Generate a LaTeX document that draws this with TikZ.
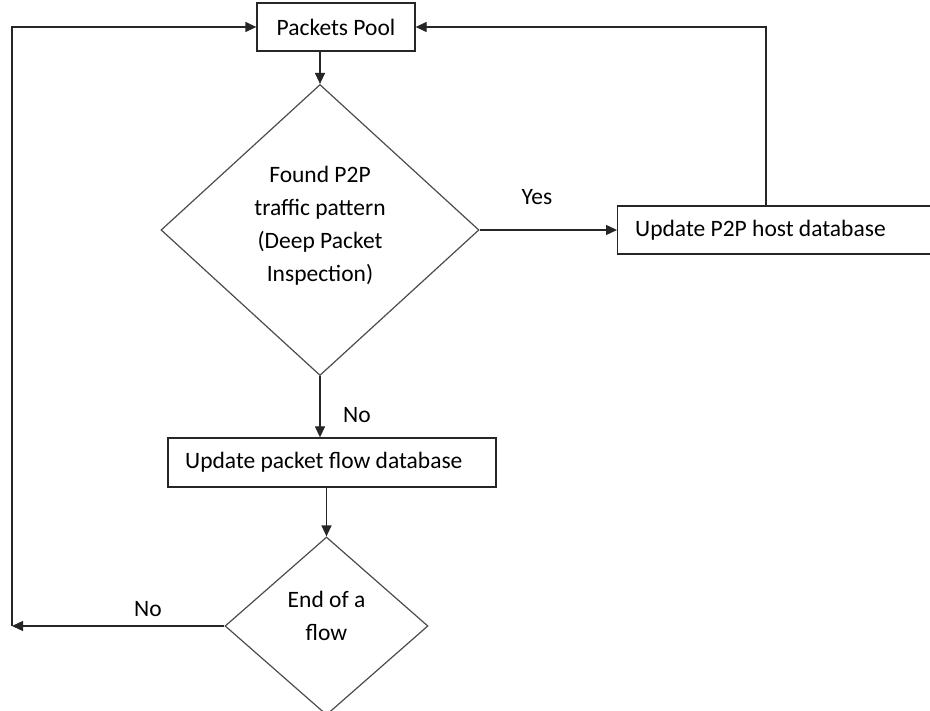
\documentclass[tikz,border=0pt]{standalone}
\usepackage{fontspec}
\setmainfont{Carlito}
\usetikzlibrary{arrows.meta,shapes.geometric}
\begin{document}
\begin{tikzpicture}[x=1pt,y=-1pt,
  every node/.style={font=\fontsize{23.5}{33}\selectfont, text=black},
  box/.style={draw=black!85, line width=1.3pt, rectangle, inner sep=0pt},
  dec/.style={draw=black!70, line width=1.2pt, diamond, inner sep=0pt},
  conn/.style={draw=black!85, line width=1.3pt},
  arr/.style={conn, -{Triangle[length=11pt,width=10pt]}},
  lbl/.style={inner sep=0pt}]
\useasboundingbox (0,0) rectangle (930,711);
\clip (0,0) rectangle (930,711);
\fill[white] (0,0) rectangle (930,711);

\node[box, minimum width=158pt, minimum height=48pt] (pool) at (336,27) {Packets Pool};
\node[dec, minimum width=318pt, minimum height=291pt] (d1) at (320,230) {};
\node[lbl, align=center] (d1t) at (320,226) {Found P2P\\traffic pattern\\(Deep Packet\\Inspection)};
\node[box, anchor=west, minimum width=330pt, minimum height=48pt] (p2p) at (617,230) {};
\node[lbl, anchor=west] (p2pt) at (635,230) {Update P2P host database};
\node[box, minimum width=328pt, minimum height=49pt] (flow) at (332,462.5) {};
\node[lbl, anchor=west] (flowt) at (185,462) {Update packet flow database};
\node[dec, minimum width=203pt, minimum height=178pt] (d2) at (326.5,626) {};
\node[lbl, align=center] (d2t) at (326.5,616) {End of a\\flow};

\coordinate (cr) at (766,29);
\coordinate (cl) at (12,626);

\draw[arr] (pool.south -| d1.north) -- (d1.north);
\draw[arr] (d1.east) -- (p2p.west);
\node[lbl] (yes) at (537,197) {Yes};
\draw[arr] (p2p.north -| cr) |- (pool.east);
\draw[arr] (d1.south) -- (d1.south |- flow.north);
\node[lbl] (no1) at (357,415) {No};
\draw[arr] (flow.south -| d2.north) -- (d2.north);
\draw[arr] (d2.west) -- (cl);
\node[lbl] (no2) at (148,609) {No};
\draw[arr] (cl) |- (pool.west);
\end{tikzpicture}
\end{document}
